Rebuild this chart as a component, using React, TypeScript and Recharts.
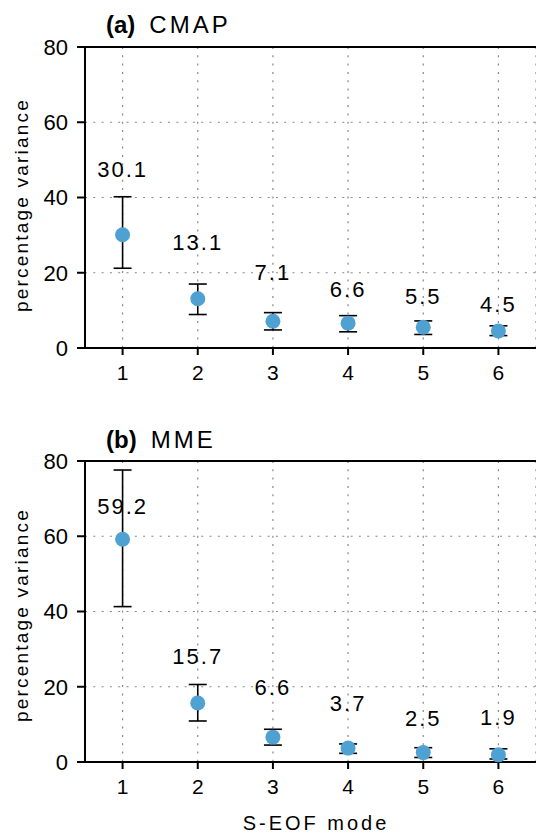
import React from 'react';
import { ScatterChart, Scatter, XAxis, YAxis, CartesianGrid, ErrorBar, ReferenceLine } from 'recharts';

const modes = [1, 2, 3, 4, 5, 6];
const cmapValues = [30.1, 13.1, 7.1, 6.6, 5.5, 4.5];
const cmapLow = [21.2, 8.9, 4.8, 4.3, 3.6, 3.3];
const cmapHigh = [40.2, 17.0, 9.4, 8.6, 7.2, 5.9];
const mmeValues = [59.2, 15.7, 6.6, 3.7, 2.5, 1.9];
const mmeLow = [41.3, 10.9, 4.5, 2.3, 1.2, 0.8];
const mmeHigh = [77.6, 20.6, 8.7, 4.8, 3.8, 3.5];
const yTicks = [0, 20, 40, 60, 80];
const xTicks = [1, 2, 3, 4, 5, 6];

// label offsets (pixels above dot centre) — layout only
const cmapLabelDy = [-65, -56, -49, -34, -31, -27];
const mmeLabelDy = [-33, -46, -50, -45, -34, -37];

const FONT = '"Liberation Sans", Arial, sans-serif';
const DOT = '#4ea1d1';

const buildRows = (vals: number[], lo: number[], hi: number[]) =>
  modes.map((m, i) => ({ mode: m, value: vals[i], err: [vals[i] - lo[i], hi[i] - vals[i]] }));

const cmapRows = buildRows(cmapValues, cmapLow, cmapHigh);
const mmeRows = buildRows(mmeValues, mmeLow, mmeHigh);

const makeShape = (dys: number[]) => (props: any) => {
  const { cx, cy, payload } = props;
  const i = payload.mode - 1;
  return (
    <g>
      <circle cx={cx} cy={cy} r={7.5} fill={DOT} />
      <text
        x={cx}
        y={cy + dys[i]}
        textAnchor="middle"
        dominantBaseline="central"
        fontFamily={FONT}
        fontSize={22}
        letterSpacing={2}
        fill="#000"
      >
        {payload.value.toFixed(1)}
      </text>
    </g>
  );
};

const Panel = ({ rows, dys }: { rows: any[]; dys: number[] }) => (
  <ScatterChart width={536} height={400} margin={{ top: 47, right: 0, bottom: 12, left: 25 }}>
    <CartesianGrid stroke="#888" strokeDasharray="2 6.3" strokeWidth={1.2} />
    <XAxis
      type="number"
      dataKey="mode"
      domain={[0.5, 6.5]}
      ticks={xTicks}
      height={40}
      axisLine={{ stroke: '#000', strokeWidth: 2 }}
      tickLine={{ stroke: '#000', strokeWidth: 2 }}
      tickSize={7}
      tickMargin={10}
      tick={{ fill: '#000', fontSize: 21, fontFamily: FONT }}
    />
    <YAxis
      type="number"
      dataKey="value"
      domain={[0, 80]}
      ticks={yTicks}
      width={60}
      axisLine={{ stroke: '#000', strokeWidth: 2 }}
      tickLine={{ stroke: '#000', strokeWidth: 2 }}
      tickSize={8}
      tickMargin={9}
      tick={{ fill: '#000', fontSize: 22, fontFamily: FONT }}
    />
    <ReferenceLine y={80} stroke="#000" strokeWidth={2} />
    <Scatter data={rows} isAnimationActive={false} shape={makeShape(dys)}>
      <ErrorBar dataKey="err" direction="y" width={9} stroke="#000" strokeWidth={1.6} />
    </Scatter>
  </ScatterChart>
);

export default function App() {
  return (
    <div style={{ position: 'absolute', left: 0, top: 0, width: 536, height: 834, background: '#fff', overflow: 'hidden' }}>
      <div style={{ position: 'absolute', left: 0, top: 0 }}>
        <Panel rows={cmapRows} dys={cmapLabelDy} />
      </div>
      <div style={{ position: 'absolute', left: 0, top: 414 }}>
        <Panel rows={mmeRows} dys={mmeLabelDy} />
      </div>
      <svg width={536} height={834} style={{ position: 'absolute', left: 0, top: 0, pointerEvents: 'none' }}>
        <g fontFamily={FONT} fill="#000">
          <text x={106} y={33} fontSize={24}>
            <tspan fontWeight="bold">(a)</tspan>
            <tspan dx={14} letterSpacing={3}>CMAP</tspan>
          </text>
          <text x={106} y={448} fontSize={24}>
            <tspan fontWeight="bold">(b)</tspan>
            <tspan dx={14} letterSpacing={3}>MME</tspan>
          </text>
          <text x={21} y={205} fontSize={19} letterSpacing={2.2} textAnchor="middle" dominantBaseline="central" transform="rotate(-90 21 205)">
            percentage variance
          </text>
          <text x={21} y={615} fontSize={19} letterSpacing={2.2} textAnchor="middle" dominantBaseline="central" transform="rotate(-90 21 615)">
            percentage variance
          </text>
          <text x={316} y={823} fontSize={20} letterSpacing={3} textAnchor="middle" dominantBaseline="central">
            S-EOF mode
          </text>
        </g>
      </svg>
    </div>
  );
}
